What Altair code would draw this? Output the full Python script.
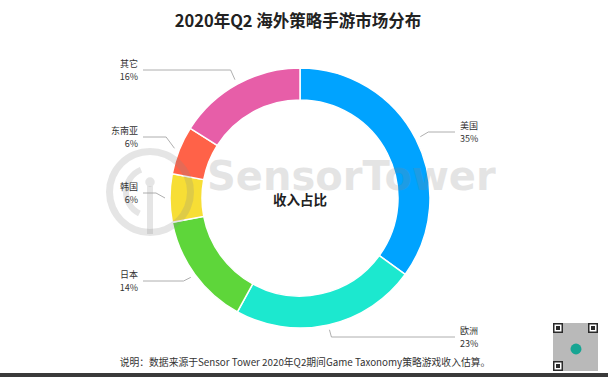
import math
import altair as alt
import pandas as pd

# ---- data ----
names = ["美国", "欧洲", "日本", "韩国", "东南亚", "其它"]
values = [35, 23, 14, 6, 6, 16]
colors = ["#00A3FF", "#1CE8CF", "#5ED63A", "#F7DE35", "#FF6248", "#E75EA8"]
title_text = "2020年Q2 海外策略手游市场分布"
center_text = "收入占比"
note_text = "说明：数据来源于Sensor Tower 2020年Q2期间Game Taxonomy策略游戏收入估算。"

# ---- layout ----
W, H = 608, 377
CX, CY, R_OUT, R_IN = 300, 198, 130, 98
LABEL_Y = [132, 337, 281, 193, 137, 70]   # label anchor rows (layout)
RIGHT_EDGE, LEFT_EDGE = 455, 143
FONT = "Noto Sans CJK SC"

total = sum(values)
df = pd.DataFrame({"name": names, "value": values, "idx": range(len(names))})

rows_line, rows_lab = [], []
cum = 0
for i, (n, v) in enumerate(zip(names, values)):
    mid = (cum + v / 2) / total * 2 * math.pi
    cum += v
    sx, sy = CX + (R_OUT + 5) * math.sin(mid), CY - (R_OUT + 5) * math.cos(mid)
    ex = CX + (R_OUT + 14) * math.sin(mid)
    right = math.sin(mid) > 0
    edge = RIGHT_EDGE if right else LEFT_EDGE
    ly = LABEL_Y[i]
    for k, (px, py) in enumerate([(sx, sy), (ex, ly), (edge, ly)]):
        rows_line.append({"name": n, "k": k, "px": px, "py": py})
    rows_lab.append({"name": n, "pct": f"{v}%", "side": "R" if right else "L",
                     "tx": edge + (5 if right else -5), "ty1": ly - 6, "ty2": ly + 7})
lines_df = pd.DataFrame(rows_line)
lab_df = pd.DataFrame(rows_lab)

xs = alt.Scale(domain=[0, W], nice=False, zero=False)
ys = alt.Scale(domain=[0, H], nice=False, zero=False, reverse=True)

def X(f):
    return alt.X(f, type="quantitative", scale=xs, axis=None)

def Y(f):
    return alt.Y(f, type="quantitative", scale=ys, axis=None)

one = pd.DataFrame({"a": [0]})

arcs = alt.Chart(df).mark_arc(
    outerRadius=R_OUT, innerRadius=R_IN, stroke="white", strokeWidth=1.5
).encode(
    theta=alt.Theta("value:Q", stack=True),
    order=alt.Order("idx:Q"),
    color=alt.Color("name:N", scale=alt.Scale(domain=names, range=colors), legend=None),
    x=alt.value(CX), y=alt.value(CY),
)

# watermark
WM = dict(color="#888888", opacity=0.22)
wm_text = alt.Chart(one).mark_text(
    text="SensorTower", font="DejaVu Sans", fontWeight="bold", fontSize=40,
    align="left", baseline="alphabetic", **WM
).encode(x=alt.value(207), y=alt.value(190))
wm_ring = alt.Chart(one).mark_arc(
    outerRadius=44, innerRadius=37, theta=0, theta2=2 * math.pi, **WM
).encode(x=alt.value(150), y=alt.value(192))
wm_inner = alt.Chart(one).mark_arc(
    outerRadius=27, innerRadius=21, theta=3.6, theta2=5.9, **WM
).encode(x=alt.value(150), y=alt.value(192))
wm_dot = alt.Chart(one).mark_point(
    shape="circle", size=90, filled=True, **WM
).encode(x=alt.value(150), y=alt.value(182))
wm_stem = alt.Chart(one).mark_rule(strokeWidth=6, **WM).encode(
    x=alt.value(150), y=alt.value(186), y2=alt.value(234))

lines = alt.Chart(lines_df).mark_line(color="#9a9a9a", strokeWidth=0.8).encode(
    x=X("px"), y=Y("py"), detail="name:N", order="k:Q"
)

def labels(side, align):
    base = alt.Chart(lab_df).transform_filter(alt.datum.side == side)
    kw = dict(font=FONT, fontSize=9, color="#333333", align=align, baseline="middle")
    t1 = base.mark_text(**kw).encode(x=X("tx"), y=Y("ty1"), text="name:N")
    t2 = base.mark_text(**kw).encode(x=X("tx"), y=Y("ty2"), text="pct:N")
    return t1 + t2

title = alt.Chart(one).mark_text(
    text=title_text, font=FONT, fontSize=16.5, fontWeight="bold", color="#222222",
    align="center", baseline="middle"
).encode(x=alt.value(298), y=alt.value(22))
center = alt.Chart(one).mark_text(
    text=center_text, font=FONT, fontSize=13.5, fontWeight="bold", color="#222222",
    align="center", baseline="middle"
).encode(x=alt.value(300), y=alt.value(201))
note = alt.Chart(one).mark_text(
    text=note_text, font=FONT, fontSize=9.8, color="#333333",
    align="center", baseline="middle"
).encode(x=alt.value(305), y=alt.value(363))

# QR-like decoration and bottom bar
qr_layers = [
    alt.Chart(one).mark_rect(color="#a8a8a8", opacity=0.8).encode(
        x=alt.value(553), x2=alt.value(598), y=alt.value(323), y2=alt.value(371))
]
for fx, fy in [(553, 323), (588, 323), (553, 361)]:
    qr_layers.append(alt.Chart(one).mark_rect(color="#2a2a2a").encode(
        x=alt.value(fx), x2=alt.value(fx + 10), y=alt.value(fy), y2=alt.value(fy + 10)))
    qr_layers.append(alt.Chart(one).mark_rect(color="white").encode(
        x=alt.value(fx + 1.5), x2=alt.value(fx + 8.5), y=alt.value(fy + 1.5), y2=alt.value(fy + 8.5)))
    qr_layers.append(alt.Chart(one).mark_rect(color="#2a2a2a").encode(
        x=alt.value(fx + 3), x2=alt.value(fx + 7), y=alt.value(fy + 3), y2=alt.value(fy + 7)))
qr_layers.append(alt.Chart(one).mark_point(shape="circle", size=120, filled=True,
                                           color="#17a593", opacity=1).encode(
    x=alt.value(576), y=alt.value(349)))
bar = alt.Chart(one).mark_rect(color="#3a3a3a").encode(
    x=alt.value(0), x2=alt.value(W), y=alt.value(373), y2=alt.value(H))

chart = alt.layer(
    arcs, wm_ring, wm_inner, wm_dot, wm_stem, wm_text, lines,
    labels("R", "left"), labels("L", "right"),
    title, center, note, *qr_layers, bar
).properties(
    width=W, height=H, autosize=alt.AutoSizeParams(type="none"), padding=0,
    background="white"
).configure_view(stroke=None)

chart.save("out.html", embed_options={"renderer": "svg", "actions": False})
